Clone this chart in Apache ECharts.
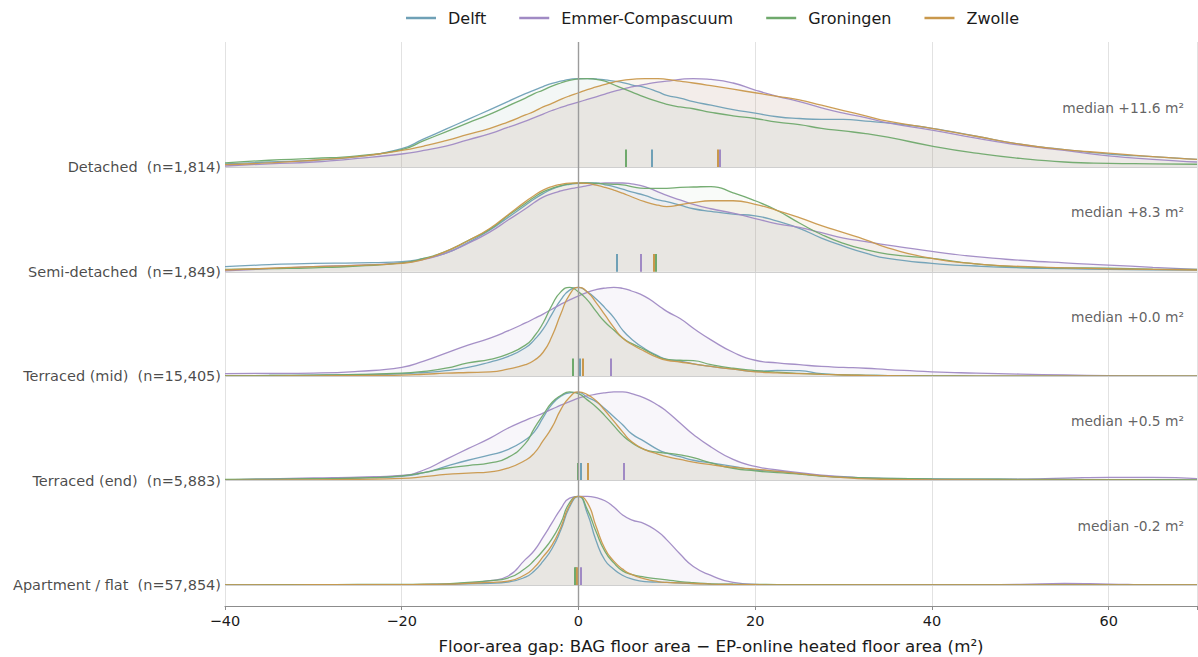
<!DOCTYPE html>
<html>
<head>
<meta charset="utf-8">
<script src="https://cdn.jsdelivr.net/npm/echarts@6/dist/echarts.min.js"></script>
<style>html,body{margin:0;padding:0;background:#fff;}#c{width:1198px;height:657px;}</style>
</head>
<body>
<div id="c"></div>
<script>
// ---- data ----
const cities = ['Delft', 'Emmer-Compascuum', 'Groningen', 'Zwolle'];
const colors = ['#6fa0b6', '#a08ac4', '#6fa96c', '#c9984c'];
const fillOpacity = [0.045, 0.08, 0.045, 0.09];
const rowLabels = ['Detached  (n=1,814)', 'Semi-detached  (n=1,849)', 'Terraced (mid)  (n=15,405)', 'Terraced (end)  (n=5,883)', 'Apartment / flat  (n=57,854)'];
const medianTexts = ['median +11.6 m\u00b2', 'median +8.3 m\u00b2', 'median +0.0 m\u00b2', 'median +0.5 m\u00b2', 'median -0.2 m\u00b2'];
const xTicks = [-40, -20, 0, 20, 40, 60];
const xs = [-40,-35,-30,-25,-20,-17.5,-15,-12.5,-10,-8,-6,-5,-4,-3,-2,-1,0,1,2,3,4,5,6,7.5,9,10,11.5,13,15,17.5,20,22.5,25,27.5,30,32.5,35,40,45,50,55,60,65,70];

// normalised densities (peak = 1), one array per city per housing type
const detachedDelft = [0.04,0.06,0.08,0.12,0.21,0.32,0.43,0.54,0.65,0.74,0.83,0.87,0.91,0.945,0.97,0.99,1.0,1.0,0.995,0.985,0.97,0.955,0.93,0.9,0.85,0.81,0.78,0.74,0.7,0.65,0.61,0.57,0.55,0.54,0.54,0.52,0.5,0.44,0.35,0.26,0.2,0.15,0.12,0.09];
const detachedEmmer = [0.015,0.04,0.06,0.1,0.15,0.19,0.24,0.31,0.38,0.45,0.52,0.56,0.6,0.64,0.675,0.705,0.735,0.765,0.795,0.825,0.855,0.88,0.905,0.935,0.96,0.97,0.99,1.0,0.99,0.95,0.87,0.8,0.74,0.67,0.61,0.56,0.5,0.42,0.33,0.25,0.19,0.13,0.09,0.06];
const detachedGroningen = [0.05,0.08,0.1,0.13,0.2,0.3,0.4,0.5,0.6,0.69,0.78,0.83,0.87,0.915,0.95,0.98,0.995,1.0,0.99,0.97,0.93,0.89,0.85,0.79,0.74,0.71,0.68,0.66,0.62,0.58,0.55,0.51,0.48,0.44,0.41,0.38,0.34,0.24,0.16,0.1,0.06,0.045,0.04,0.035];
const detachedZwolle = [0.03,0.05,0.08,0.12,0.19,0.24,0.3,0.37,0.44,0.51,0.59,0.63,0.68,0.72,0.765,0.805,0.84,0.875,0.905,0.935,0.96,0.98,0.99,1.0,1.0,0.99,0.97,0.95,0.92,0.88,0.84,0.8,0.76,0.7,0.64,0.58,0.52,0.44,0.35,0.26,0.2,0.16,0.12,0.09];

const semiDelft = [0.057,0.08,0.095,0.1,0.115,0.15,0.21,0.33,0.47,0.61,0.75,0.82,0.88,0.93,0.965,0.985,0.995,1.0,1.0,0.98,0.96,0.93,0.9,0.86,0.81,0.79,0.75,0.71,0.68,0.65,0.63,0.57,0.49,0.38,0.29,0.21,0.15,0.095,0.065,0.045,0.035,0.027,0.022,0.02];
const semiEmmer = [0.01,0.035,0.057,0.075,0.1,0.14,0.21,0.32,0.45,0.58,0.71,0.78,0.84,0.88,0.91,0.935,0.95,0.97,0.99,1.0,1.0,1.0,0.99,0.96,0.9,0.86,0.81,0.76,0.71,0.66,0.6,0.54,0.5,0.44,0.38,0.34,0.3,0.23,0.17,0.13,0.1,0.076,0.05,0.027];
const semiGroningen = [0.027,0.035,0.045,0.065,0.1,0.15,0.23,0.35,0.48,0.63,0.77,0.84,0.9,0.94,0.97,0.99,1.0,1.0,0.995,0.99,0.985,0.98,0.96,0.94,0.94,0.94,0.95,0.955,0.96,0.89,0.8,0.69,0.55,0.42,0.32,0.25,0.2,0.15,0.09,0.055,0.045,0.04,0.03,0.027];
const semiZwolle = [0.02,0.04,0.057,0.072,0.095,0.14,0.23,0.35,0.49,0.64,0.79,0.86,0.92,0.96,0.985,0.998,1.0,0.995,0.975,0.95,0.92,0.885,0.845,0.79,0.75,0.735,0.755,0.78,0.8,0.8,0.76,0.69,0.61,0.52,0.44,0.36,0.27,0.15,0.09,0.06,0.045,0.034,0.027,0.02];

const midDelft = [0.004,0.008,0.012,0.018,0.028,0.042,0.064,0.1,0.16,0.22,0.32,0.41,0.53,0.7,0.86,0.97,1.0,0.95,0.87,0.77,0.66,0.52,0.42,0.31,0.23,0.19,0.17,0.14,0.11,0.08,0.056,0.066,0.062,0.03,0.015,0.01,0.007,0.004,0.002,0.001,0.001,0,0,0];
const midEmmer = [0.03,0.032,0.036,0.055,0.1,0.17,0.26,0.35,0.43,0.51,0.6,0.65,0.7,0.755,0.81,0.86,0.905,0.945,0.975,0.993,1.0,0.99,0.96,0.9,0.8,0.73,0.65,0.54,0.41,0.27,0.18,0.15,0.13,0.11,0.1,0.09,0.075,0.05,0.035,0.024,0.014,0.007,0.003,0];
const midGroningen = [0.007,0.008,0.012,0.02,0.034,0.055,0.09,0.15,0.19,0.25,0.35,0.45,0.6,0.8,0.95,1.0,0.95,0.86,0.73,0.61,0.52,0.43,0.37,0.3,0.22,0.19,0.18,0.175,0.13,0.09,0.064,0.045,0.032,0.023,0.015,0.01,0.007,0.004,0.002,0.001,0.001,0,0,0];
const midZwolle = [0,0.002,0.004,0.007,0.012,0.022,0.034,0.042,0.05,0.08,0.13,0.18,0.27,0.45,0.7,0.92,1.0,0.95,0.83,0.69,0.55,0.43,0.36,0.28,0.21,0.18,0.16,0.14,0.11,0.08,0.05,0.037,0.03,0.021,0.014,0.009,0.006,0.002,0.001,0,0,0,0,0];

const endDelft = [0.01,0.015,0.02,0.03,0.05,0.09,0.16,0.23,0.29,0.35,0.46,0.55,0.71,0.86,0.95,0.99,0.995,0.94,0.89,0.81,0.72,0.63,0.53,0.44,0.35,0.31,0.27,0.23,0.2,0.16,0.12,0.105,0.08,0.055,0.04,0.03,0.026,0.02,0.017,0.015,0.013,0.012,0.011,0.01];
const endEmmer = [0.01,0.02,0.03,0.04,0.06,0.12,0.24,0.36,0.48,0.59,0.68,0.72,0.76,0.805,0.85,0.89,0.93,0.955,0.975,0.99,1.0,1.0,0.98,0.93,0.85,0.78,0.65,0.52,0.38,0.24,0.16,0.12,0.09,0.062,0.045,0.03,0.022,0.015,0.014,0.016,0.028,0.038,0.038,0.022];
const endGroningen = [0.015,0.018,0.022,0.03,0.055,0.09,0.14,0.17,0.2,0.26,0.42,0.59,0.74,0.88,0.96,1.0,0.98,0.91,0.83,0.73,0.62,0.51,0.43,0.35,0.32,0.31,0.29,0.26,0.2,0.14,0.11,0.09,0.075,0.052,0.04,0.03,0.025,0.02,0.017,0.015,0.013,0.012,0.011,0.01];
const endZwolle = [0.004,0.007,0.01,0.015,0.025,0.045,0.07,0.085,0.1,0.14,0.23,0.31,0.45,0.6,0.8,0.94,1.0,0.97,0.9,0.79,0.67,0.55,0.44,0.35,0.3,0.27,0.24,0.21,0.18,0.15,0.13,0.105,0.08,0.055,0.035,0.02,0.015,0.01,0.008,0.006,0.005,0.005,0.004,0.004];

const aptDelft = [0.002,0.002,0.003,0.004,0.005,0.006,0.009,0.014,0.02,0.035,0.09,0.16,0.27,0.41,0.62,0.88,1.0,0.81,0.5,0.28,0.18,0.11,0.07,0.04,0.033,0.03,0.024,0.018,0.012,0.007,0.004,0.003,0.003,0.002,0.002,0.002,0.001,0.001,0.001,0.001,0.001,0.001,0.001,0];
const aptEmmer = [0,0.001,0.002,0.003,0.004,0.006,0.01,0.025,0.05,0.1,0.29,0.39,0.54,0.7,0.86,0.98,1.0,1.0,0.985,0.95,0.88,0.79,0.735,0.69,0.6,0.51,0.35,0.21,0.11,0.03,0.008,0.004,0.003,0.003,0.002,0.002,0.002,0.002,0.003,0.008,0.02,0.012,0.003,0.001];
const aptGroningen = [0.003,0.004,0.005,0.007,0.009,0.01,0.015,0.03,0.05,0.08,0.19,0.28,0.39,0.52,0.7,0.93,1.0,0.85,0.6,0.38,0.25,0.16,0.12,0.09,0.07,0.06,0.04,0.027,0.015,0.01,0.008,0.006,0.005,0.005,0.004,0.003,0.003,0.002,0.002,0.002,0.002,0.002,0.001,0.001];
const aptZwolle = [0.002,0.003,0.004,0.005,0.006,0.007,0.01,0.02,0.03,0.045,0.12,0.2,0.32,0.45,0.65,0.9,1.0,0.93,0.66,0.41,0.27,0.18,0.12,0.07,0.04,0.03,0.025,0.018,0.012,0.007,0.004,0.003,0.003,0.002,0.002,0.002,0.001,0.001,0.001,0.001,0.001,0.001,0.001,0.001];

// medians per city (Delft, Emmer-Compascuum, Groningen, Zwolle)
const detachedMedians = [8.3, 16.0, 5.3, 15.8];
const semiMedians = [4.3, 7.0, 8.7, 8.5];
const midMedians = [0.1, 3.7, -0.7, 0.5];
const endMedians = [0.3, 5.1, -0.1, 1.1];
const aptMedians = [-0.3, 0.3, -0.4, -0.2];

// ---- build ----
const rows = [
  { dens: [detachedDelft, detachedEmmer, detachedGroningen, detachedZwolle], med: detachedMedians },
  { dens: [semiDelft, semiEmmer, semiGroningen, semiZwolle], med: semiMedians },
  { dens: [midDelft, midEmmer, midGroningen, midZwolle], med: midMedians },
  { dens: [endDelft, endEmmer, endGroningen, endZwolle], med: endMedians },
  { dens: [aptDelft, aptEmmer, aptGroningen, aptZwolle], med: aptMedians }
];
const SCALE = 0.85;   // ridge height in row units
const TICK = 0.17;    // median tick height
const FONT = 'DejaVu Sans';
const nRows = rows.length;

const series = [];
rows.forEach((row, r) => {
  const base = nRows - 1 - r;
  cities.forEach((c, k) => {
    series.push({
      type: 'line',
      name: c,
      data: xs.map((x, i) => [x, base + SCALE * row.dens[k][i]]),
      showSymbol: false,
      symbol: 'none',
      smooth: 0.55,
      silent: true,
      z: 3,
      lineStyle: { color: colors[k], width: 1.3, opacity: 0.95 },
      itemStyle: { color: colors[k] },
      areaStyle: { origin: base, color: colors[k], opacity: fillOpacity[k] },
      markLine: {
        silent: true,
        symbol: 'none',
        label: { show: false },
        lineStyle: { color: colors[k], width: 2, type: 'solid', opacity: 1 },
        data: [[{ coord: [row.med[k], base] }, { coord: [row.med[k], base + TICK] }]]
      }
    });
  });
});

// row labels, baselines, zero line
series.push({
  type: 'scatter',
  name: 'rowlabels',
  symbolSize: 0,
  silent: true,
  z: 1,
  data: rowLabels.map((t, r) => ({ name: t, value: [-40, nRows - 1 - r] })),
  label: { show: true, position: 'left', distance: 4, formatter: '{b}', color: '#1a1a1a', fontSize: 14.5, fontFamily: FONT },
  markLine: {
    silent: true,
    symbol: 'none',
    label: { show: false },
    data: rowLabels.map((t, r) => ({ yAxis: nRows - 1 - r, lineStyle: { color: '#cfcfcf', width: 1, type: 'solid' } }))
      .concat([{ xAxis: 0, lineStyle: { color: '#9c9c9c', width: 1.4, type: 'solid' } }])
  }
});
// median annotations
series.push({
  type: 'scatter',
  name: 'mediantexts',
  symbolSize: 0,
  silent: true,
  z: 5,
  data: medianTexts.map((t, r) => ({ name: t, value: [70, nRows - 1 - r + 0.57] })),
  label: { show: true, position: 'left', distance: 13, formatter: '{b}', color: '#3a3a3a', fontSize: 13.8, fontFamily: FONT }
});

const chart = echarts.init(document.getElementById('c'), null, { renderer: 'svg' });
chart.setOption({
  animation: false,
  backgroundColor: '#ffffff',
  textStyle: { fontFamily: FONT },
  legend: {
    data: cities,
    left: 401,
    top: 5,
    itemWidth: 30,
    itemHeight: 2.5,
    itemGap: 33,
    icon: 'rect',
    textStyle: { fontSize: 16, color: '#1a1a1a', fontFamily: FONT, padding: [0, 0, 0, 7] },
    selectedMode: false
  },
  grid: { left: 225, right: 1, top: 42, bottom: 51, containLabel: false, outerBoundsMode: 'none' },
  xAxis: {
    type: 'value',
    min: -40,
    max: 70,
    interval: 20,
    name: 'Floor-area gap: BAG floor area \u2212 EP-online heated floor area (m\u00b2)',
    nameLocation: 'middle',
    nameGap: 31,
    nameTextStyle: { fontSize: 16.7, color: '#1a1a1a', fontFamily: FONT },
    axisLine: { show: true, onZero: false, lineStyle: { color: '#8c8c8c', width: 1.2 } },
    axisTick: { show: true, length: 4, lineStyle: { color: '#8c8c8c' } },
    axisLabel: {
      fontSize: 14.5, color: '#1a1a1a', fontFamily: FONT, margin: 7,
      formatter: v => (xTicks.indexOf(v) < 0 ? '' : (v < 0 ? '\u2212' + Math.abs(v) : String(v)))
    },
    splitLine: { show: true, lineStyle: { color: '#e2e2e2', width: 1 } }
  },
  yAxis: {
    type: 'value',
    min: -0.2,
    max: 5.2,
    show: false,
    splitLine: { show: false }
  },
  series: series
});
</script>
</body>
</html>
